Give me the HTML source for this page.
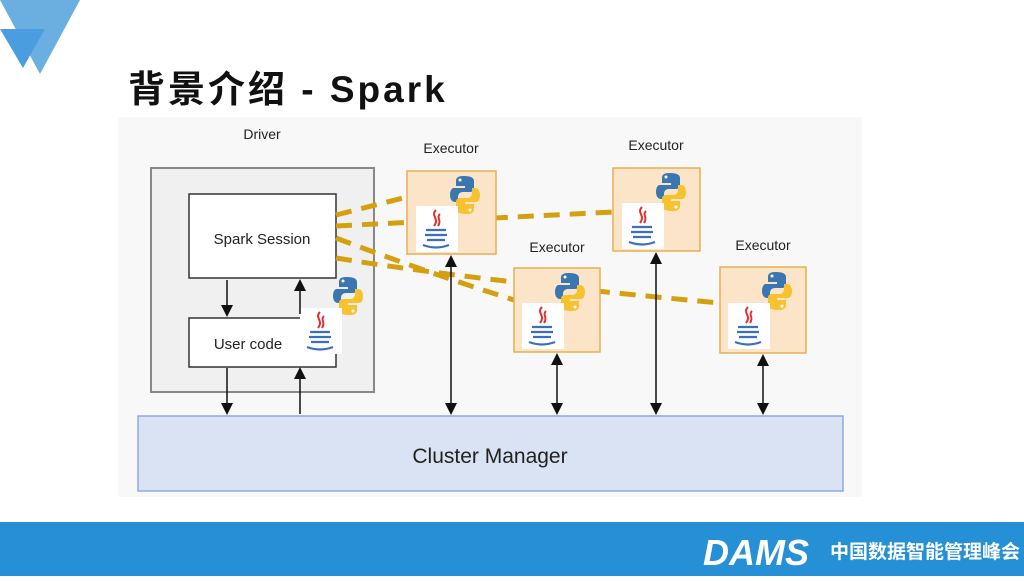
<!DOCTYPE html>
<html><head><meta charset="utf-8"><style>
body{margin:0;width:1024px;height:576px;overflow:hidden;background:#fff;font-family:"Liberation Sans","Noto Sans CJK SC",sans-serif}
</style></head><body>
<svg width="1024" height="576" viewBox="0 0 1024 576" xmlns="http://www.w3.org/2000/svg">
<defs>
<g id="py">
<path d="M12 0 C4 0 4 3 4 6 V10 H13 V12 H2 C-1 12 -2 16 -2 19 C-2 23 0 26 3 26 H6 V21 C6 18 8 16 11 16 H18 C21 16 22 14 22 12 V5 C22 2 19 0 12 0Z" fill="#3a76b0"/>
<path d="M14 38 C22 38 22 35 22 32 V28 H13 V26 H24 C27 26 28 22 28 19 C28 15 26 12 23 12 H20 V17 C20 20 18 22 15 22 H8 C5 22 4 24 4 26 V33 C4 36 7 38 14 38Z" fill="#f6c230"/>
<circle cx="8" cy="4" r="1.5" fill="#fff"/><circle cx="18" cy="34" r="1.5" fill="#fff"/>
</g>
<g id="jv">
<rect x="0" y="0" width="42" height="46" fill="#fff"/>
<path d="M20 4 C14 10 24 12 18 20 M24 8 C20 12 26 14 22 20" stroke="#e03030" stroke-width="2" fill="none"/>
<path d="M10 24 H30 M9 29 H31 M11 34 H29 M7 39 Q20 44 33 39" stroke="#3a6fc0" stroke-width="2.2" fill="none"/>
</g>
<marker id="ar" markerWidth="8" markerHeight="8" refX="6" refY="4" orient="auto-start-reverse"><path d="M0 0 L8 4 L0 8 Z" fill="#111"/></marker>
</defs>
<polygon points="0,0 80,0 40,74" fill="#6aafe0"/>
<polygon points="0,29 45,29 23,68" fill="#4a9ee0"/>
<text x="128" y="102" font-size="37" font-weight="bold" fill="#111" letter-spacing="3" font-family="Liberation Sans,Noto Sans CJK SC,sans-serif">背景介绍 - Spark</text>
<rect x="118" y="117" width="744" height="380" fill="#f8f8f8"/>
<rect x="151" y="168" width="223" height="224" fill="#f0f0f0" stroke="#888" stroke-width="2"/>
<text x="262" y="139" font-size="14" text-anchor="middle" fill="#222">Driver</text>
<rect x="189" y="194" width="147" height="84" fill="#fff" stroke="#333" stroke-width="1.5"/>
<text x="262" y="244" font-size="15" text-anchor="middle" fill="#222">Spark Session</text>
<rect x="189" y="318" width="147" height="49" fill="#fff" stroke="#333" stroke-width="1.5"/>
<text x="248" y="349" font-size="15" text-anchor="middle" fill="#222">User code</text>
<use href="#py" x="335" y="277"/><use href="#jv" x="300" y="308"/>
<rect x="138" y="416" width="705" height="75" fill="#dae3f3" stroke="#8faadc" stroke-width="1.5"/>
<text x="490" y="463" font-size="21" text-anchor="middle" fill="#222">Cluster Manager</text>
<g stroke="#d4a010" stroke-width="5" stroke-dasharray="16,10" fill="none">
<path d="M336 215 L407 197"/>
<path d="M336 226 L613 212"/>
<path d="M336 238 Q420 270 514 300"/>
<path d="M336 258 Q470 280 720 303"/>
</g>
<g font-size="14" fill="#222" text-anchor="middle">
<text x="451" y="153">Executor</text><text x="656" y="150">Executor</text>
<text x="557" y="252">Executor</text><text x="763" y="250">Executor</text>
</g>
<g fill="#fce4c8" stroke="#e8b050" stroke-width="1.5">
<rect x="407" y="171" width="89" height="83"/><rect x="613" y="168" width="87" height="83"/>
<rect x="514" y="268" width="86" height="84"/><rect x="720" y="267" width="86" height="86"/>
</g>
<use href="#py" x="452" y="176"/><use href="#jv" x="416" y="206"/>
<use href="#py" x="658" y="173"/><use href="#jv" x="622" y="203"/>
<use href="#py" x="557" y="273"/><use href="#jv" x="522" y="303"/>
<use href="#py" x="764" y="272"/><use href="#jv" x="728" y="303"/>
<g stroke="#111" stroke-width="1.5">
<line x1="227" y1="280" x2="227" y2="314" marker-end="url(#ar)"/>
<line x1="300" y1="314" x2="300" y2="282" marker-end="url(#ar)"/>
<line x1="227" y1="368" x2="227" y2="412" marker-end="url(#ar)"/>
<line x1="300" y1="414" x2="300" y2="370" marker-end="url(#ar)"/>
<line x1="451" y1="412" x2="451" y2="258" marker-end="url(#ar)" marker-start="url(#ar)"/>
<line x1="557" y1="412" x2="557" y2="356" marker-end="url(#ar)" marker-start="url(#ar)"/>
<line x1="656" y1="412" x2="656" y2="255" marker-end="url(#ar)" marker-start="url(#ar)"/>
<line x1="763" y1="412" x2="763" y2="357" marker-end="url(#ar)" marker-start="url(#ar)"/>
</g>
<rect x="0" y="522" width="1024" height="54" fill="#2590d6"/>
<text x="703" y="565" font-size="36" font-weight="bold" font-style="italic" fill="#fff">DAMS</text>
<text x="830" y="558" font-size="19" font-weight="bold" fill="#fff" font-family="Liberation Sans,Noto Sans CJK SC,sans-serif">中国数据智能管理峰会</text>
</svg>
</body></html>
